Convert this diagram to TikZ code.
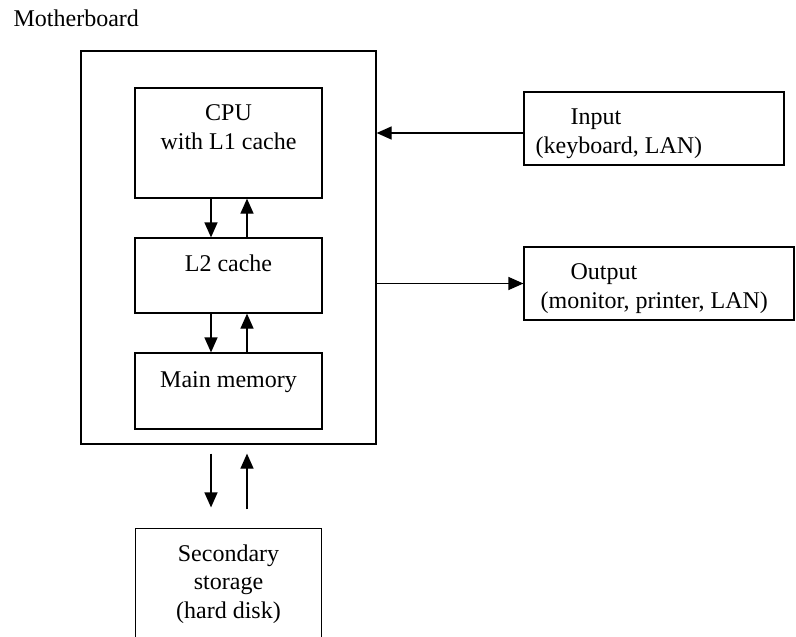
\documentclass[tikz,border=0pt]{standalone}
\usepackage{fontspec}
\setmainfont{Liberation Serif}
\usetikzlibrary{arrows.meta}

\begin{document}
\begin{tikzpicture}[x=1pt, y=-1pt, line width=1.2pt,
	font=\fontsize{24}{28.5}\selectfont,
	box/.style={draw, inner sep=0pt},
	lbl/.style={anchor=base, align=center, inner sep=0pt},
	arr/.style={-{Triangle[length=15pt, width=13pt]}}]
	\useasboundingbox (0,0) rectangle (796,637);
	% boxes
	\node[box, minimum width=295pt, minimum height=393pt] (mb) at (228.5,247.5) {};
	\node[box, minimum width=187pt, minimum height=110pt] (cpu) at (228.5,143) {};
	\node[box, minimum width=187pt, minimum height=75pt] (l2) at (228.5,275.5) {};
	\node[box, minimum width=187pt, minimum height=76pt] (mem) at (228.5,391) {};
	\node[inner sep=0pt, minimum width=185pt, minimum height=131pt] (sec) at (228.5,594.5) {};
	\draw (sec.south west) -- (sec.north west) -- (sec.north east) -- (sec.south east);
	\node[box, minimum width=260pt, minimum height=73pt] (in) at (654,128.5) {};
	\node[box, minimum width=270pt, minimum height=73pt] (out) at (659,283.5) {};
	% texts (base = last line)
	\node[lbl, anchor=base west] (mbtxt) at (13,27) {Motherboard};
	\node[lbl] (cputxt) at (228.5,149) {CPU\\with L1 cache};
	\node[lbl] (l2txt) at (228.5,271) {L2 cache};
	\node[lbl] (memtxt) at (228.5,387) {Main memory};
	\node[lbl] (sectxt) at (228.5,618) {Secondary\\storage\\(hard disk)};
	\node[lbl, anchor=base west, align=left] (intxt) at (535,153) {\hspace*{35pt}Input\\(keyboard, LAN)};
	\node[lbl, anchor=base west, align=left] (outtxt) at (540,308) {\hspace*{30pt}Output\\(monitor, printer, LAN)};
	% arrows
	\draw[arr] ([xshift=-17.5pt]cpu.south) -- ([xshift=-17.5pt]l2.north);
	\draw[arr] ([xshift=18.5pt]l2.north) -- ([xshift=18.5pt]cpu.south);
	\draw[arr] ([xshift=-17.5pt]l2.south) -- ([xshift=-17.5pt]mem.north);
	\draw[arr] ([xshift=18.5pt]mem.north) -- ([xshift=18.5pt]l2.south);
	\draw[arr] ([xshift=-17.5pt, yshift=-9pt]mb.south) -- ([xshift=-17.5pt, yshift=21pt]sec.north);
	\draw[arr] ([xshift=18.5pt, yshift=19pt]sec.north) -- ([xshift=18.5pt, yshift=-9pt]mb.south);
	\draw[arr] ([yshift=-4.5pt]in.west) -- ([yshift=-4.5pt]in.west -| mb.east);
	\draw[arr] (out.west -| mb.east) -- (out.west);
\end{tikzpicture}
\end{document}
